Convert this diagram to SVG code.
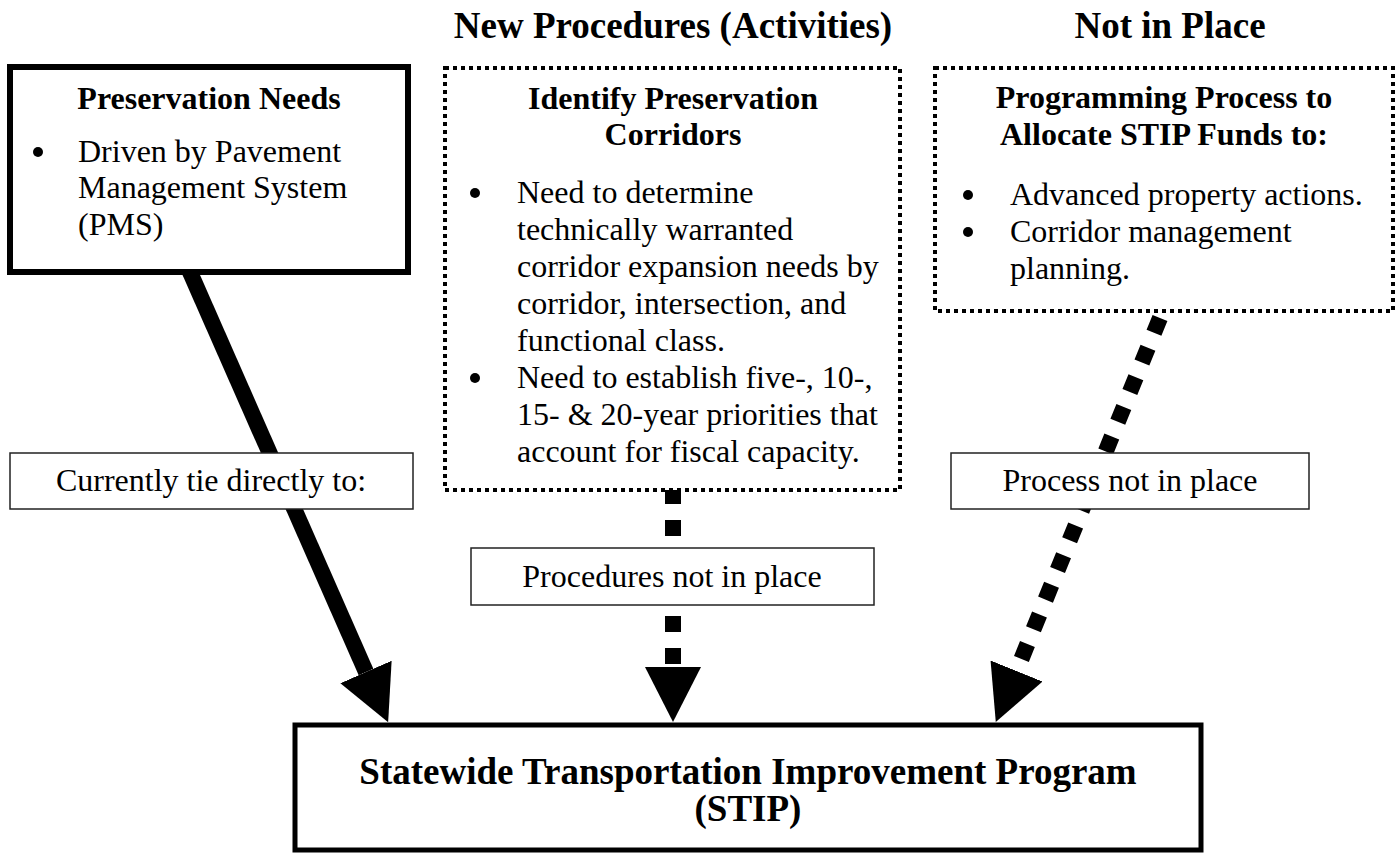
<svg xmlns="http://www.w3.org/2000/svg" width="1400" height="856" viewBox="0 0 1400 856">
<style>
  text { font-family: "Liberation Serif", "Times New Roman", serif; fill: #000; }
  .title { font-size: 37px; font-weight: bold; text-anchor: middle; }
  .head { font-size: 32px; font-weight: bold; text-anchor: middle; }
  .big { font-size: 37px; }
  .body { font-size: 32px; }
  .bul { fill: #000; }
  .lbl { font-size: 32px; text-anchor: middle; }
  .solid { fill: #fff; stroke: #000; stroke-width: 6; }
  .dotted { fill: #fff; stroke: #000; stroke-width: 4; stroke-dasharray: 4 4; }
  .label { fill: #fff; stroke: #222; stroke-width: 1.5; }
  .conn { fill: none; stroke: #000; stroke-width: 16; marker-end: url(#ah); }
  .dash { stroke-dasharray: 16 16; }
</style>
<defs>
  <marker id="ah" markerUnits="userSpaceOnUse" viewBox="0 0 55 56" markerWidth="55" markerHeight="56" refX="0" refY="28" orient="auto">
    <path d="M0,0 L55,28 L0,56 Z" fill="#000"/>
  </marker>
</defs>
<rect width="1400" height="856" fill="#fff"/>

<g id="titles">
  <text class="title" x="673" y="38">New Procedures (Activities)</text>
  <text class="title" x="1170" y="38">Not in Place</text>
</g>

<g id="connectors">
  <line class="conn" x1="186" y1="263" x2="366" y2="672"/>
  <line class="conn dash" x1="673" y1="488" x2="673" y2="667"/>
  <line class="conn dash" x1="1160" y1="318" x2="1016.5" y2="671"/>
</g>

<g id="preservation-needs">
  <rect class="solid" x="10" y="67" width="398" height="205"/>
  <text class="head" x="209" y="109">Preservation Needs</text>
  <circle class="bul" cx="38" cy="152" r="5"/>
  <text class="body" x="78" y="162">Driven by Pavement</text>
  <text class="body" x="78" y="198">Management System</text>
  <text class="body" x="78" y="235">(PMS)</text>
</g>

<g id="identify-corridors">
  <rect class="dotted" x="445" y="68" width="455" height="422"/>
  <text class="head" x="673" y="109">Identify Preservation</text>
  <text class="head" x="673" y="145">Corridors</text>
  <circle class="bul" cx="475" cy="193" r="5"/>
  <text class="body" x="517" y="203">Need to determine</text>
  <text class="body" x="517" y="240">technically warranted</text>
  <text class="body" x="517" y="277">corridor expansion needs by</text>
  <text class="body" x="517" y="314">corridor, intersection, and</text>
  <text class="body" x="517" y="351">functional class.</text>
  <circle class="bul" cx="475" cy="378" r="5"/>
  <text class="body" x="517" y="388">Need to establish five-, 10-,</text>
  <text class="body" x="517" y="425">15- &amp; 20-year priorities that</text>
  <text class="body" x="517" y="462">account for fiscal capacity.</text>
</g>

<g id="programming-process">
  <rect class="dotted" x="935" y="68" width="458" height="243"/>
  <text class="head" x="1164" y="108">Programming Process to</text>
  <text class="head" x="1164" y="145">Allocate STIP Funds to:</text>
  <circle class="bul" cx="968" cy="195" r="5"/>
  <text class="body" x="1010" y="205">Advanced property actions.</text>
  <circle class="bul" cx="968" cy="232" r="5"/>
  <text class="body" x="1010" y="242">Corridor management</text>
  <text class="body" x="1010" y="279">planning.</text>
</g>

<g id="label-currently">
  <rect class="label" x="10" y="453" width="403" height="56"/>
  <text class="lbl" x="211" y="491">Currently tie directly to:</text>
</g>

<g id="label-procedures">
  <rect class="label" x="471" y="548" width="403" height="57"/>
  <text class="lbl" x="672" y="587">Procedures not in place</text>
</g>

<g id="label-process">
  <rect class="label" x="951" y="453" width="358" height="56"/>
  <text class="lbl" x="1130" y="491">Process not in place</text>
</g>

<g id="stip">
  <rect class="solid" x="295" y="725" width="906" height="125" style="stroke-width:5"/>
  <text class="head big" x="748" y="784">Statewide Transportation Improvement Program</text>
  <text class="head big" x="748" y="821">(STIP)</text>
</g>
</svg>
